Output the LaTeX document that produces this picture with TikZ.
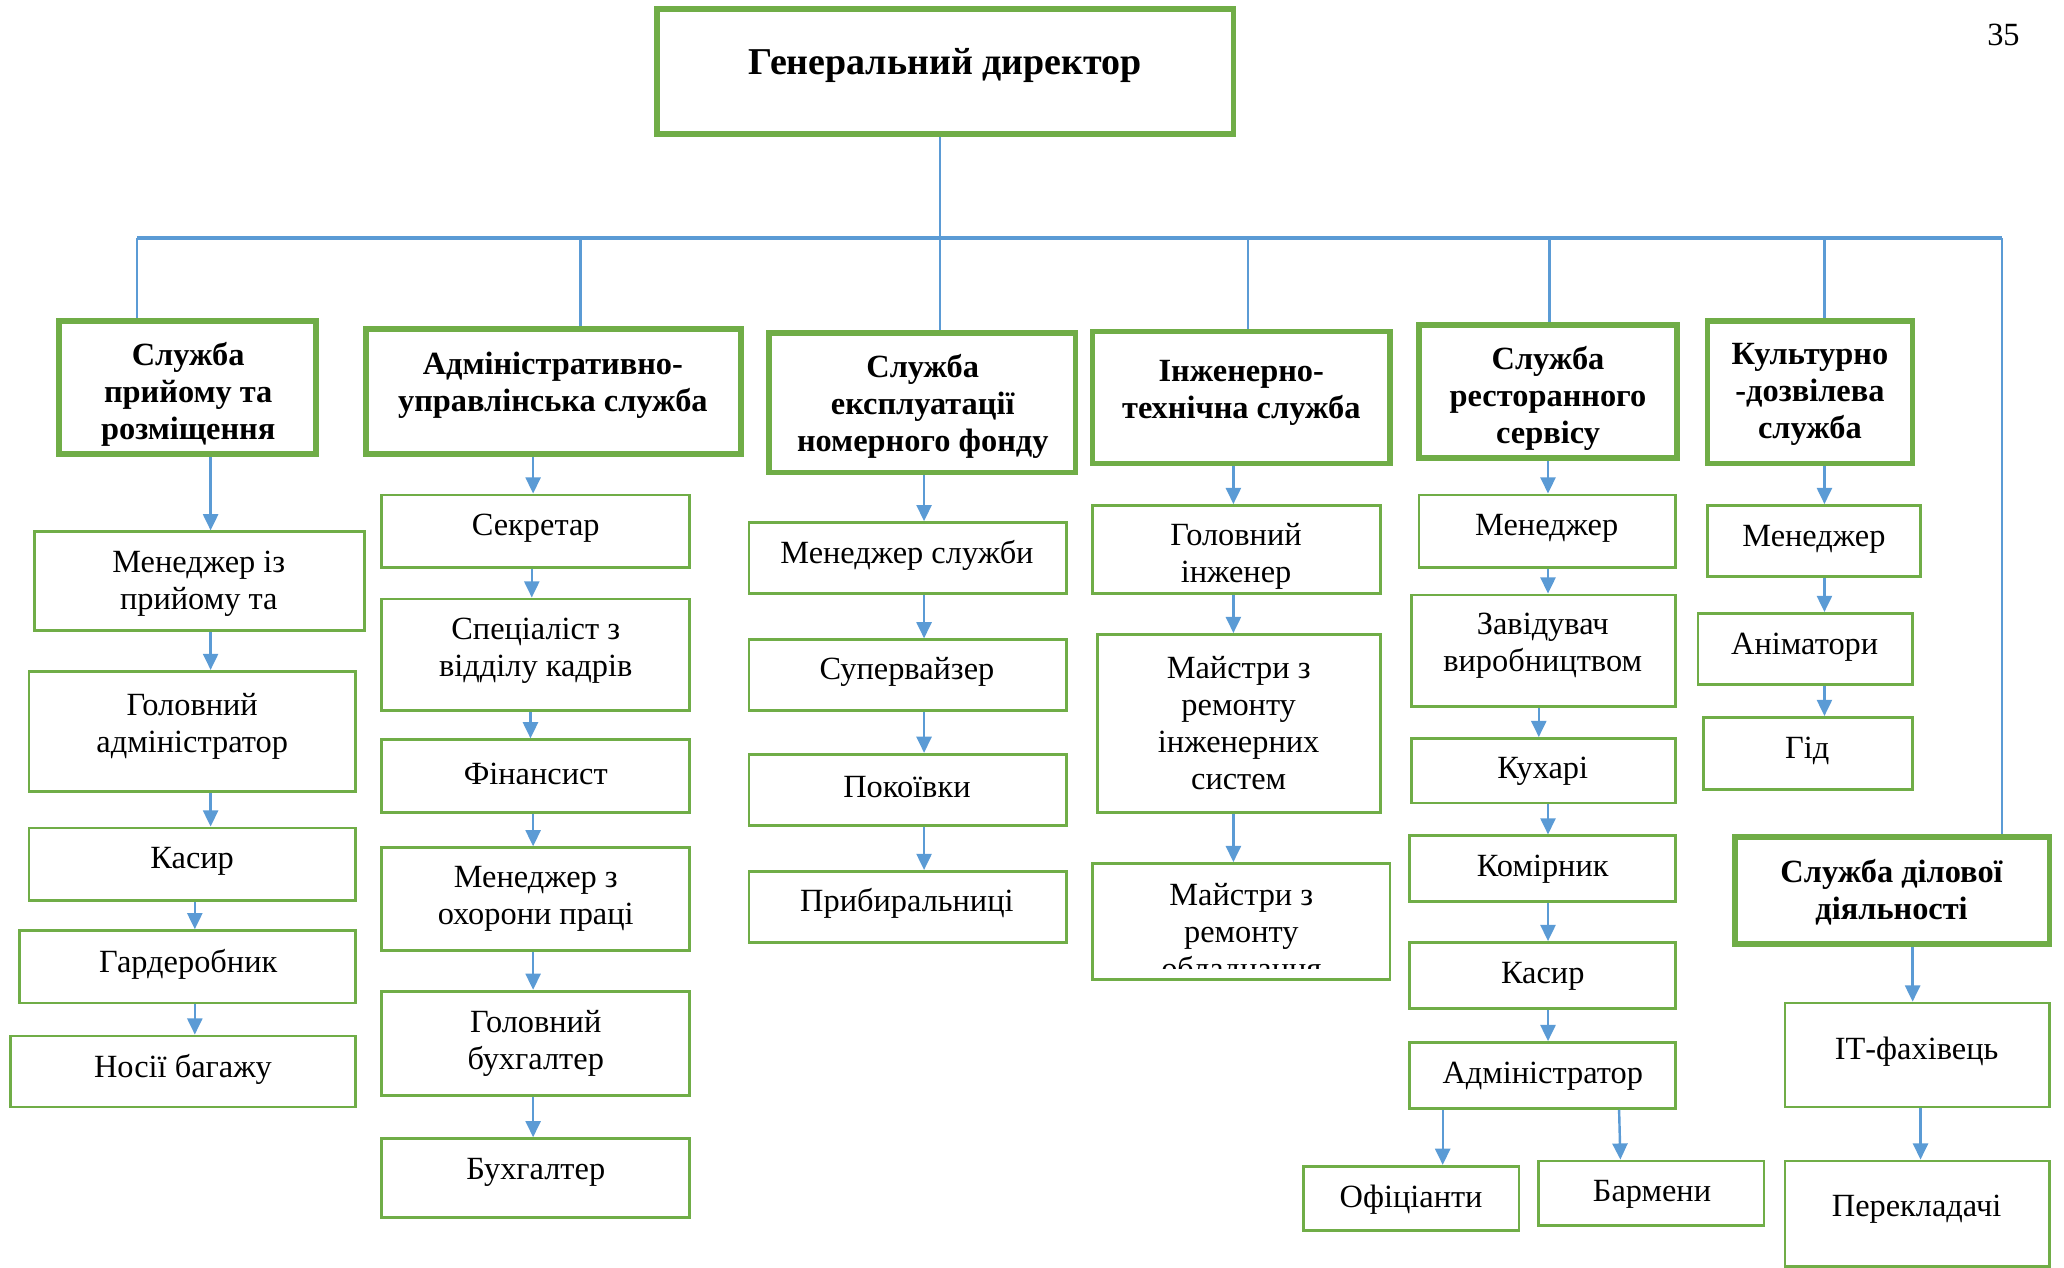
\documentclass[tikz,border=0pt]{standalone}
\usepackage{fontspec}
\setmainfont{Liberation Serif}
\usetikzlibrary{arrows.meta,fit}
\definecolor{grn}{HTML}{70AD47}
\definecolor{blu}{HTML}{5B9BD5}
\tikzset{
  tb/.style={draw=grn, line width=2.4pt, inner sep=0pt},
  nb/.style={draw=grn, line width=1.2pt, inner sep=0pt},
  tx/.style={font=\fontsize{14}{16}\selectfont, align=center, inner sep=0pt, yshift=-1.5pt},
  bt/.style={font=\fontsize{14}{16}\selectfont\bfseries, align=center, inner sep=0pt, yshift=-1.5pt},
  ln/.style={draw=blu, line width=1.05pt},
  bus/.style={draw=blu, line width=1.7pt},
  arr/.style={draw=blu, line width=1.05pt, -{Triangle[length=7pt,width=6.5pt]}}
}
\begin{document}
\begin{tikzpicture}[x=0.02cm,y=-0.02cm]
\useasboundingbox (0,0) rectangle (1568,963);

% top level
\node[tb, fit={(499,7)(937,102)}] (gd) {};
\node[bt, font=\fontsize{16.4}{18}\selectfont\bfseries] (gdt) at (718,47) {Генеральний директор};
\node[tx] (pg) at (1522,24) {35};

% departments
\node[tb, fit={(45,244)(240,345)}] (d1) {};
\node[bt] (d1t) at (143,297) {Служба\\прийому та\\розміщення};
\node[tb, fit={(278,250)(563,345)}] (d2) {};
\node[bt] (d2t) at (420,290) {Адміністративно-\\управлінська служба};
\node[tb, fit={(584,253)(817,359)}] (d3) {};
\node[bt] (d3t) at (701,306) {Служба\\експлуатації\\номерного фонду};
\node[tb, fit={(830,252)(1056,352)}] (d4) {};
\node[bt] (d4t) at (943,296) {Інженерно-\\технічна служба};
\node[tb, fit={(1078,247)(1274,348)}] (d5) {};
\node[bt] (d5t) at (1176,300) {Служба\\ресторанного\\сервісу};
\node[tb, fit={(1297,244)(1453,352)}] (d6) {};
\node[bt] (d6t) at (1375,297) {Культурно\\-дозвілева\\служба};
\node[tb, fit={(1318,636)(1557,717)}] (d7) {};
\node[bt] (d7t) at (1437,675) {Служба ділової\\діяльності};

% column 1
\node[nb, fit={(26,404)(277,479)}] (m1a) {};
\node[tx] (m1at) at (151,441) {Менеджер із\\прийому та};
\node[nb, fit={(22,510)(270,601)}] (m1b) {};
\node[tx] (m1bt) at (146,549) {Головний\\адміністратор};
\node[nb, fit={(22,629)(270,684)}] (m1c) {};
\node[tx] (m1ct) at (146,652) {Касир};
\node[nb, fit={(15,707)(270,762)}] (m1d) {};
\node[tx] (m1dt) at (143,730) {Гардеробник};
\node[nb, fit={(8,787)(270,841)}] (m1e) {};
\node[tx] (m1et) at (139,810) {Носії багажу};

% column 2
\node[nb, fit={(290,376)(524,431)}] (m2a) {};
\node[tx] (m2at) at (407,399) {Секретар};
\node[nb, fit={(290,455)(524,540)}] (m2b) {};
\node[tx] (m2bt) at (407,492) {Спеціаліст з\\відділу кадрів};
\node[nb, fit={(290,562)(524,617)}] (m2c) {};
\node[tx] (m2ct) at (407,585) {Фінансист};
\node[nb, fit={(290,644)(524,722)}] (m2d) {};
\node[tx] (m2dt) at (407,680) {Менеджер з\\охорони праці};
\node[nb, fit={(290,753)(524,832)}] (m2e) {};
\node[tx] (m2et) at (407,790) {Головний\\бухгалтер};
\node[nb, fit={(290,865)(524,925)}] (m2f) {};
\node[tx] (m2ft) at (407,888) {Бухгалтер};

% column 3
\node[nb, fit={(569,397)(810,451)}] (m3a) {};
\node[tx] (m3at) at (689,419) {Менеджер служби};
\node[nb, fit={(569,486)(810,540)}] (m3b) {};
\node[tx] (m3bt) at (689,508) {Супервайзер};
\node[nb, fit={(569,573)(810,627)}] (m3c) {};
\node[tx] (m3ct) at (689,595) {Покоївки};
\node[nb, fit={(569,662)(810,716)}] (m3d) {};
\node[tx] (m3dt) at (689,684) {Прибиральниці};

% column 4
\node[nb, fit={(830,384)(1049,451)}] (m4a) {};
\node[tx] (m4at) at (939,420) {Головний\\інженер};
\node[nb, fit={(834,482)(1049,617)}] (m4b) {};
\node[tx] (m4bt) at (941,547) {Майстри з\\ремонту\\інженерних\\систем};
\node[nb, fit={(830,656)(1056,744)}] (m4c) {};
\begin{scope}
  \clip (830,656) rectangle (1056,736);
  \node[tx] (m4ct) at (943,707) {Майстри з\\ремонту\\обладнання};
\end{scope}

% column 5
\node[nb, fit={(1078,376)(1273,431)}] (m5a) {};
\node[tx] (m5at) at (1175,399) {Менеджер};
\node[nb, fit={(1072,452)(1273,537)}] (m5b) {};
\node[tx] (m5bt) at (1172,488) {Завідувач\\виробництвом};
\node[nb, fit={(1072,561)(1273,610)}] (m5c) {};
\node[tx] (m5ct) at (1172,583) {Кухарі};
\node[nb, fit={(1071,635)(1273,685)}] (m5d) {};
\node[tx] (m5dt) at (1172,658) {Комірник};
\node[nb, fit={(1071,716)(1273,766)}] (m5e) {};
\node[tx] (m5et) at (1172,739) {Касир};
\node[nb, fit={(1071,792)(1273,842)}] (m5f) {};
\node[tx] (m5ft) at (1172,815) {Адміністратор};
\node[nb, fit={(990,886)(1154,935)}] (m5g) {};
\node[tx] (m5gt) at (1072,909) {Офіціанти};
\node[nb, fit={(1169,882)(1340,931)}] (m5h) {};
\node[tx] (m5ht) at (1255,905) {Бармени};

% column 6
\node[nb, fit={(1297,384)(1459,438)}] (m6a) {};
\node[tx] (m6at) at (1378,407) {Менеджер};
\node[nb, fit={(1290,466)(1453,520)}] (m6b) {};
\node[tx] (m6bt) at (1371,489) {Аніматори};
\node[nb, fit={(1294,545)(1453,600)}] (m6c) {};
\node[tx] (m6ct) at (1373,568) {Гід};

% column 7
\node[nb, fit={(1356,762)(1557,841)}] (m7a) {};
\node[tx] (m7at) at (1456,796) {ІТ-фахівець};
\node[nb, fit={(1356,882)(1557,962)}] (m7b) {};
\node[tx] (m7bt) at (1456,916) {Перекладачі};

% bus and drops
\coordinate (busL) at (104,181);
\coordinate (busR) at (1521,181);
\draw[bus] (busL) -- (busR);
\draw[ln] (gd.south -| 714,0) -- (d3.north -| 714,0);
\draw[ln] (busL) -- (d1.north -| busL);
\draw[ln] (busL -| 441,0) -- (d2.north -| 441,0);
\draw[ln] (busL -| 948,0) -- (d4.north -| 948,0);
\draw[ln] (busL -| 1177,0) -- (d5.north -| 1177,0);
\draw[ln] (busL -| 1386,0) -- (d6.north -| 1386,0);
\draw[ln] (busR) -- (d7.north -| busR);

% column 1 arrows
\draw[arr] (d1.south -| 160,0) -- (m1a.north -| 160,0);
\draw[arr] (m1a.south -| 160,0) -- (m1b.north -| 160,0);
\draw[arr] (m1b.south -| 160,0) -- (m1c.north -| 160,0);
\draw[arr] (m1c.south -| 148,0) -- (m1d.north -| 148,0);
\draw[arr] (m1d.south -| 148,0) -- (m1e.north -| 148,0);

% column 2 arrows
\draw[arr] (d2.south -| 405,0) -- (m2a.north -| 405,0);
\draw[arr] (m2a.south -| 404,0) -- (m2b.north -| 404,0);
\draw[arr] (m2b.south -| 403,0) -- (m2c.north -| 403,0);
\draw[arr] (m2c.south -| 405,0) -- (m2d.north -| 405,0);
\draw[arr] (m2d.south -| 405,0) -- (m2e.north -| 405,0);
\draw[arr] (m2e.south -| 405,0) -- (m2f.north -| 405,0);

% column 3 arrows
\draw[arr] (d3.south -| 702,0) -- (m3a.north -| 702,0);
\draw[arr] (m3a.south -| 702,0) -- (m3b.north -| 702,0);
\draw[arr] (m3b.south -| 702,0) -- (m3c.north -| 702,0);
\draw[arr] (m3c.south -| 702,0) -- (m3d.north -| 702,0);

% column 4 arrows
\draw[arr] (d4.south -| 937,0) -- (m4a.north -| 937,0);
\draw[arr] (m4a.south -| 937,0) -- (m4b.north -| 937,0);
\draw[arr] (m4b.south -| 937,0) -- (m4c.north -| 937,0);

% column 5 arrows
\draw[arr] (d5.south -| 1176,0) -- (m5a.north -| 1176,0);
\draw[arr] (m5a.south -| 1176,0) -- (m5b.north -| 1176,0);
\draw[arr] (m5b.south -| 1169,0) -- (m5c.north -| 1169,0);
\draw[arr] (m5c.south -| 1176,0) -- (m5d.north -| 1176,0);
\draw[arr] (m5d.south -| 1176,0) -- (m5e.north -| 1176,0);
\draw[arr] (m5e.south -| 1176,0) -- (m5f.north -| 1176,0);
\draw[arr] (m5f.south -| 1096,0) -- (m5g.north -| 1096,0);
\draw[arr] (m5f.south -| 1230,0) -- (m5h.north -| 1231,0);

% column 6 arrows
\draw[arr] (d6.south -| 1386,0) -- (m6a.north -| 1386,0);
\draw[arr] (m6a.south -| 1386,0) -- (m6b.north -| 1386,0);
\draw[arr] (m6b.south -| 1386,0) -- (m6c.north -| 1386,0);

% column 7 arrows
\draw[arr] (d7.south -| 1453,0) -- (m7a.north -| 1453,0);
\draw[arr] (m7a.south -| 1459,0) -- (m7b.north -| 1459,0);
\end{tikzpicture}
\end{document}
